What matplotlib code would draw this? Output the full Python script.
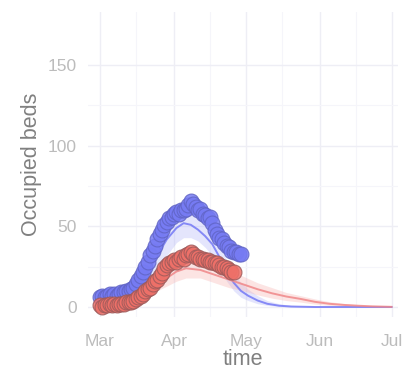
import numpy as np
import pandas as pd
import matplotlib
matplotlib.use("Agg")
import matplotlib.pyplot as plt

plt.rcParams['font.family'] = ['Liberation Sans', 'DejaVu Sans']

start = pd.Timestamp("2020-03-01")

# observed occupied beds (daily from Mar 1)
blue_obs = [6, 7, 6, 7, 8, 7, 8, 7, 8, 9, 9, 10, 10, 11, 12, 14, 17, 19, 22, 25,
            28, 32, 35, 38, 42, 45, 48, 51, 53, 55, 56, 58, 59, 58, 60, 60, 61, 63, 66, 64,
            62, 60, 61, 58, 57, 55, 56, 52, 48, 45, 43, 42, 40, 38, 37, 35, 34, 34, 33, 33]
red_obs = [1, 0, 1, 1, 2, 1, 2, 1, 2, 2, 2, 3, 3, 3, 4, 5, 6, 7, 8, 10,
           11, 12, 14, 16, 17, 19, 21, 24, 26, 27, 28, 29, 28, 30, 31, 30, 32, 33, 34, 33,
           31, 31, 30, 30, 29, 29, 28, 28, 27, 27, 26, 25, 25, 24, 23, 22, 22]

# model median and band (day offsets from Mar 1)
blue_days = [8, 12, 16, 20, 24, 28, 32, 35, 38, 41, 44, 47, 50, 53, 56, 59, 62, 66, 70, 75, 80, 90, 100, 122]
blue_med = [5, 8, 14, 22, 32, 42, 49, 52, 51, 48, 44, 39, 31, 22, 15, 10, 7, 4, 2, 0.8, 0.3, 0, 0, 0]
blue_hi = [8, 13, 21, 31, 42, 52, 58, 60, 59, 56, 52, 46, 38, 29, 21, 15, 11, 7, 4, 2, 1, 0.3, 0.1, 0]
blue_lo = [3, 5, 9, 15, 23, 32, 40, 43, 43, 41, 37, 32, 24, 16, 10, 6, 4, 2, 1, 0.3, 0.1, 0, 0, 0]

red_days = [8, 12, 16, 20, 24, 28, 32, 36, 42, 48, 54, 60, 66, 72, 78, 84, 90, 96, 102, 108, 114, 122]
red_med = [1, 3, 6, 10, 14, 18, 22, 24, 23, 20, 17, 14, 11, 8.5, 6.5, 5, 3.2, 2, 1.3, 0.8, 0.4, 0.1]
red_hi = [2, 5, 9, 14, 19, 24, 28, 30, 29, 26, 23, 19, 15, 12, 9, 7, 5, 3.3, 2.2, 1.4, 0.8, 0.4]
red_lo = [0.5, 1.5, 3.5, 6.5, 10, 13, 16, 18, 18, 15, 12, 10, 7.5, 5.5, 4, 3, 1.8, 1, 0.6, 0.3, 0.1, 0]

yticks = [0, 50, 100, 150]
month_ticks = ["2020-03-01", "2020-04-01", "2020-05-01", "2020-06-01", "2020-07-01"]
month_labels = ["Mar", "Apr", "May", "Jun", "Jul"]


def to_dates(days):
    return start + pd.to_timedelta(np.asarray(days), unit="D")


fig = plt.figure(figsize=(4.04, 3.70), dpi=100)
ax = fig.add_axes([88 / 404, 1 - 317 / 370, 310 / 404, 305 / 370])

bd = to_dates(blue_days)
rd = to_dates(red_days)
ax.fill_between(bd, blue_lo, blue_hi, color="#b4b7f8", alpha=0.35, lw=0)
ax.fill_between(rd, red_lo, red_hi, color="#f7b3b1", alpha=0.35, lw=0)
ax.plot(bd, blue_med, color="#7479f5", lw=1.4, alpha=0.85)
ax.plot(rd, red_med, color="#f08789", lw=1.4, alpha=0.85)

ax.scatter(to_dates(range(len(blue_obs))), blue_obs, s=115, facecolor="#767bf3",
           edgecolor="#6064c4", linewidth=0.8, alpha=0.85, zorder=3)
ax.scatter(to_dates(range(len(red_obs))), red_obs, s=115, facecolor="#ee7068",
           edgecolor="#9c5a5a", linewidth=0.8, alpha=0.85, zorder=4)

ax.set_xlim(start - pd.Timedelta(days=5), start + pd.Timedelta(days=124.7))
ax.set_ylim(-6.2, 183)

ax.set_yticks(yticks)
ax.set_yticks([25, 75, 125], minor=True)
ax.set_xticks(pd.to_datetime(month_ticks))
ax.set_xticklabels(month_labels)
ax.set_xticks(pd.to_datetime(["2020-03-16", "2020-04-16", "2020-05-16", "2020-06-16"]), minor=True)

ax.grid(True, which="major", color="#eeeef5", lw=1.0)
ax.grid(True, which="minor", color="#f5f5fa", lw=0.8)
ax.set_axisbelow(True)
for s in ax.spines.values():
    s.set_visible(False)
ax.tick_params(which="both", length=0, labelsize=12.5, colors="#bcbcbc")
ax.tick_params(axis="y", pad=8)
ax.tick_params(axis="x", pad=12)

ax.set_ylabel("Occupied beds", fontsize=15.5, color="#808080", labelpad=4)
ax.set_xlabel("time", fontsize=15.5, color="#808080", labelpad=0)

fig.savefig("out.png", dpi=100, facecolor="white")
